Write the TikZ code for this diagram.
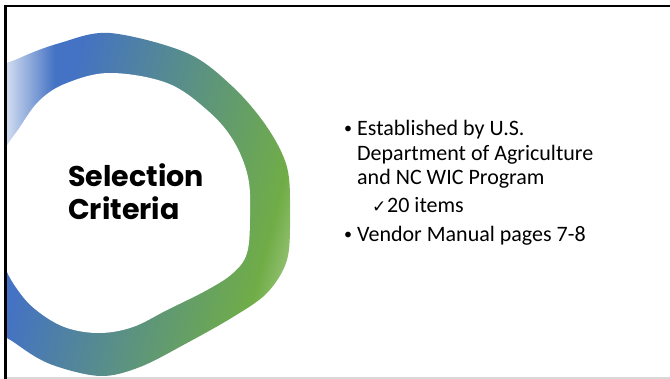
\documentclass[tikz,border=0pt]{standalone}
\usepackage{fontspec}
\setmainfont{Carlito}
\newfontfamily\titleFont{Poppins}
\newfontfamily\symbolFont{DejaVu Sans}
\usepackage{tikz}
\usetikzlibrary{fadings}
\definecolor{ringBlue}{RGB}{68,114,196}
\definecolor{ringTeal}{RGB}{88,142,138}
\definecolor{ringGreen}{RGB}{112,173,71}
\definecolor{ringLight}{RGB}{140,188,105}
\pgfdeclarehorizontalshading{ringShade}{100bp}{color(0bp)=(ringBlue); color(37bp)=(ringBlue); color(53bp)=(ringTeal); color(72bp)=(ringGreen); color(75bp)=(ringLight); color(100bp)=(ringLight)}

\begin{document}
\begin{tikzpicture}[x=1pt, y=-1pt,
	titleText/.style={anchor=base west, inner sep=0pt, font=\titleFont\bfseries\fontsize{28.5}{34}\selectfont},
	bodyText/.style={anchor=base west, inner sep=0pt, font=\fontsize{22}{25}\selectfont},
	bulletText/.style={anchor=base west, inner sep=0pt, font=\fontsize{16}{20}\selectfont}]
	\useasboundingbox (0,0) rectangle (670,379);

	\begin{scope}
	\clip (7,7) rectangle (670,377);
	\begin{scope}
	\clip plot[smooth cycle, tension=0.55] coordinates {(-20,80) (20,58) (60,43) (110,33) (187,53) (233,87) (267,127) (287,167) (290,213) (287,260) (267,293) (233,317) (187,343) (140,367) (100,376) (50,364) (15,343) (-15,318) (-35,250) (-35,130)};
	\shade[shading=ringShade, shading angle=-15] (-30,0) rectangle (292,379);
	\fill[white, fill opacity=0.75, path fading=east] (7,0) rectangle (55,200);
	\end{scope}
	\fill[white] plot[smooth cycle, tension=0.6] coordinates {(110,73) (167,83) (207,110) (233,140) (248,177) (250,217) (247,253) (233,273) (207,290) (167,310) (133,327) (100,333) (67,328) (40,313) (20,293) (3,262) (-8,210) (0,160) (20,127) (40,100) (67,83)};
	\end{scope}

	% slide frame
	\draw[line width=2.4pt] (5.5,379) -- (5.5,6.2) -- (670,6.2);
	\draw[black!15, line width=1.5pt] (7,378) -- (670,378);

	\node[titleText](titleLine1) at (68,187){Selection};
	\node[titleText](titleLine2) at (68,220){Criteria};

	\node[bulletText](bullet1) at (344,134){•};
	\node[bodyText](item1Line1) at (357,136){Established by U.S.};
	\node[bodyText](item1Line2) at (357,161){Department of Agriculture};
	\node[bodyText](item1Line3) at (357,185){and NC WIC Program};
	\node[bodyText, font=\symbolFont\fontsize{17}{20}\selectfont](check1) at (372,212.5){✓};
	\node[bodyText](subItem1) at (387,212.5){20 items};
	\node[bulletText](bullet2) at (344,239.5){•};
	\node[bodyText](item2Line1) at (357,241.5){Vendor Manual pages 7-8};
\end{tikzpicture}
\end{document}
